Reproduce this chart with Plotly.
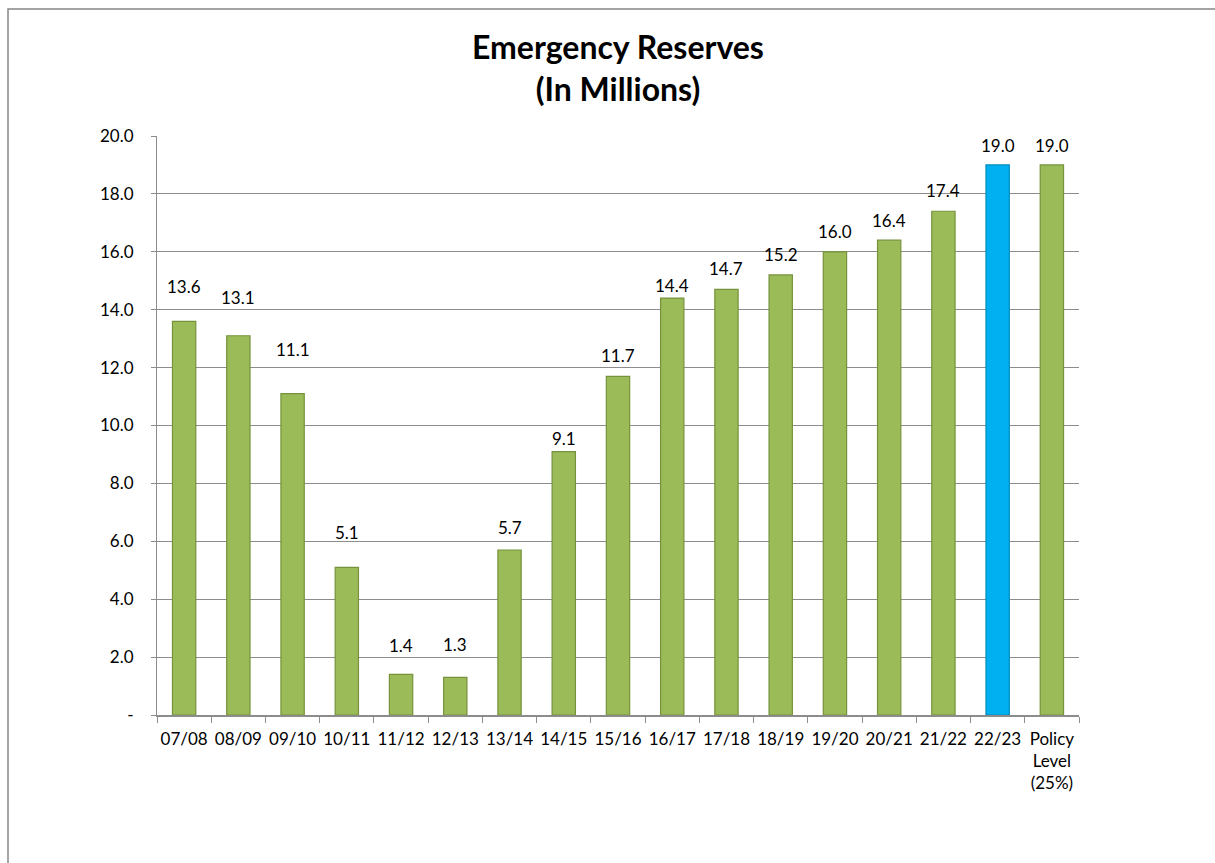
import plotly.graph_objects as go

# ---- data ----
categories = ["07/08", "08/09", "09/10", "10/11", "11/12", "12/13", "13/14", "14/15",
              "15/16", "16/17", "17/18", "18/19", "19/20", "20/21", "21/22", "22/23",
              "Policy<br>Level<br>(25%)"]
reserves = [13.6, 13.1, 11.1, 5.1, 1.4, 1.3, 5.7, 9.1, 11.7, 14.4, 14.7, 15.2, 16.0,
            16.4, 17.4, 19.0, 19.0]
y_ticks = [0, 2, 4, 6, 8, 10, 12, 14, 16, 18, 20]
title_lines = ["Emergency Reserves", "(In Millions)"]

# ---- styles (kept separate from data) ----
highlight = "22/23"
green, green_edge = "#9BBB59", "#76923C"
blue, blue_edge = "#00B0F0", "#0089BD"
label_shift = [35, 38, 44, 35, 29, 33, 22, 13, 21, 13, 21, 20, 20, 20, 21, 19, 19]
FONT = "Lato, Carlito, Calibri, sans-serif"
grid = "#8C8C8C"

fill_colors = [blue if c == highlight else green for c in categories]
edge_colors = [blue_edge if c == highlight else green_edge for c in categories]

fig = go.Figure(go.Bar(
    x=categories, y=reserves, width=0.43,
    marker=dict(color=fill_colors, line=dict(color=edge_colors, width=1.2)),
    hoverinfo="x+y",
))

annotations = [
    dict(x=c, y=v, xref="x", yref="y", text=f"{v:.1f}", showarrow=False,
         yanchor="middle", yshift=s, font=dict(family=FONT, size=17, color="#000"))
    for c, v, s in zip(categories, reserves, label_shift)
]
annotations.append(dict(
    x=0.5, y=1.1917, xref="paper", yref="paper", xanchor="center", yanchor="top",
    text="<b>" + "<br>".join(title_lines) + "</b>", showarrow=False,
    font=dict(family=FONT, size=32, color="#000")))

tick_text = ["-" if t == 0 else f"{t:.1f}" for t in y_ticks]

fig.update_layout(
    width=1215, height=863,
    margin=dict(l=157, r=136, t=136, b=148, pad=0),
    paper_bgcolor="white", plot_bgcolor="white",
    showlegend=False,
    font=dict(family=FONT, size=17, color="#000"),
    annotations=annotations,
    shapes=[dict(type="rect", xref="paper", yref="paper",
                 x0=-0.1616, x1=1.152, y0=-0.27, y1=1.2193,
                 line=dict(color="#878787", width=1.5), layer="below")],
)

fig.update_yaxes(range=[0, 20], tickvals=y_ticks, ticktext=tick_text,
                 showgrid=True, gridcolor=grid, gridwidth=1,
                 showline=True, linecolor=grid, linewidth=1,
                 ticks="outside", ticklen=5, tickcolor=grid,
                 ticklabelstandoff=14, zeroline=False,
                 tickfont=dict(family=FONT, size=17, color="#000"))
fig.update_xaxes(showline=True, linecolor=grid, linewidth=1.5,
                 ticks="outside", ticklen=6, tickcolor=grid, tickson="boundaries",
                 tickangle=0, ticklabelstandoff=8,
                 tickfont=dict(family=FONT, size=17, color="#000"))

fig.write_html("out.html", config={"displayModeBar": False},
               post_script="document.body.style.margin='0';")
